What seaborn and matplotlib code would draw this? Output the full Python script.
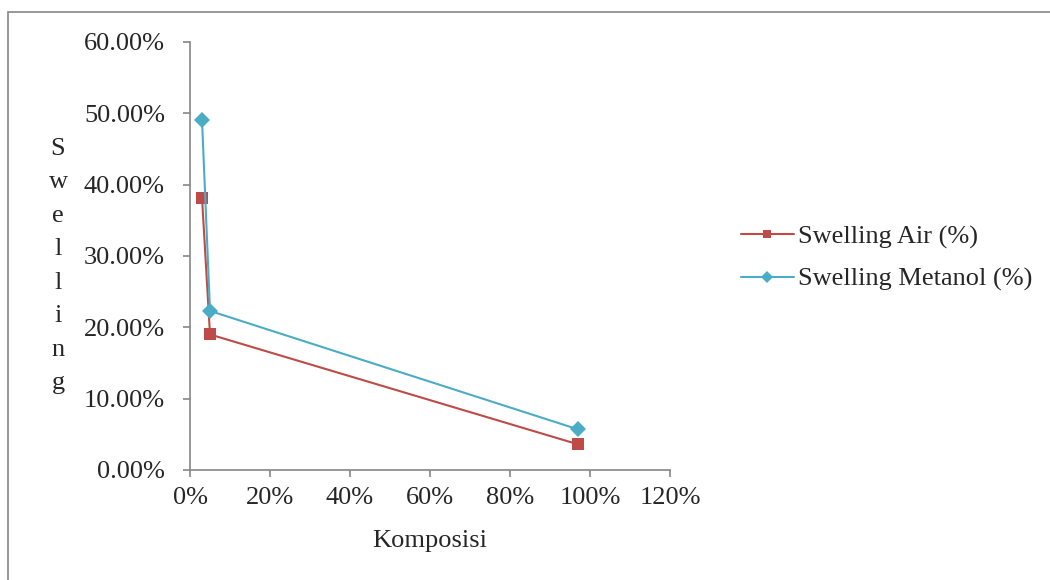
import pandas as pd
import seaborn as sns
import matplotlib.pyplot as plt
from matplotlib.patches import Rectangle
from matplotlib.ticker import FuncFormatter

# data
komposisi = [0.03, 0.05, 0.97]
swelling_air = [0.382, 0.190, 0.036]
swelling_metanol = [0.491, 0.223, 0.057]
series_names = ["Swelling Air (%)", "Swelling Metanol (%)"]


def main():
    sns.set_style("white")
    plt.rcParams['font.family'] = ['Liberation Serif', 'DejaVu Serif']

    df = pd.DataFrame({
        "Komposisi": komposisi * 2,
        "Swelling": swelling_air + swelling_metanol,
        "Seri": [series_names[0]] * 3 + [series_names[1]] * 3,
    })

    fig = plt.figure(figsize=(10.5, 5.8), dpi=100)
    ax = fig.add_axes([190 / 1050, 1 - 470 / 580, 480 / 1050, 428 / 580])

    # outer chart frame (cut off at right/bottom as in the original)
    fig.patches.append(Rectangle((8 / 1050, -0.05), 1.1, 1 - 12 / 580 + 0.05,
                                 transform=fig.transFigure, fill=False,
                                 edgecolor="#868686", linewidth=1.2))

    palette = {series_names[0]: "#BE4B48", series_names[1]: "#4BACC6"}
    markers = {series_names[0]: "s", series_names[1]: "D"}
    sns.lineplot(data=df, x="Komposisi", y="Swelling", hue="Seri", style="Seri",
                 palette=palette, markers=markers, dashes=False, sort=False,
                 linewidth=1.5, markersize=8, markeredgewidth=0, ax=ax)

    ax.set_xlim(0, 1.2)
    ax.set_ylim(0, 0.6)
    ax.set_xticks([i * 0.2 for i in range(7)])
    ax.set_yticks([i * 0.1 for i in range(7)])
    ax.xaxis.set_major_formatter(FuncFormatter(lambda v, p: f"{v * 100:.0f}%"))
    ax.yaxis.set_major_formatter(FuncFormatter(lambda v, p: f"{v * 100:.2f}%"))
    ax.tick_params(axis="both", labelsize=19, color="#868686", length=5,
                   width=1.2, direction="out", bottom=True, left=True)
    ax.tick_params(axis="y", pad=13)
    ax.tick_params(axis="x", pad=7)

    for side in ["top", "right"]:
        ax.spines[side].set_visible(False)
    for side in ["left", "bottom"]:
        ax.spines[side].set_color("#868686")
        ax.spines[side].set_linewidth(1.2)

    ax.set_xlabel("Komposisi", fontsize=19, va="center")
    ax.xaxis.set_label_coords(0.5, -(541 - 470) / 428)
    ax.set_ylabel("")
    fig.text(58 / 1050, 1 - 266 / 580, "\n".join("Swelling"), ha="center", va="center",
             fontsize=19, linespacing=1.68)

    handles, labels = ax.get_legend_handles_labels()
    ax.legend(handles, labels, loc="center left", bbox_to_anchor=(1.098, 0.495),
              frameon=False, fontsize=19, handlelength=2.0, markerscale=0.75,
              labelspacing=0.7, handletextpad=0.15)

    plt.savefig("out.png", dpi=100)


if __name__ == "__main__":
    main()
